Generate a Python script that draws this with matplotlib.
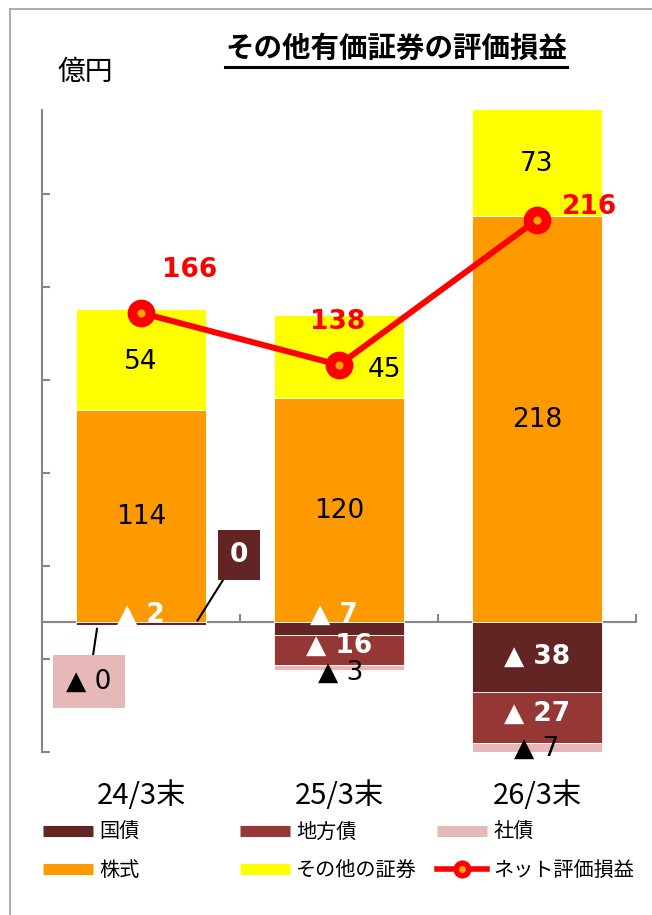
import matplotlib
matplotlib.use('Agg')
import matplotlib.pyplot as plt
from matplotlib.lines import Line2D
import numpy as np

plt.rcParams['font.family'] = ['Noto Sans CJK JP', 'DejaVu Sans']

# データ（億円）
categories = ['24/3末', '25/3末', '26/3末']
kokusai = [-2, -7, -38]        # 国債
chihousai = [0, -16, -27]      # 地方債
shasai = [-0.4, -3, -7]        # 社債
kabushiki = [114, 120, 218]    # 株式
sonota = [54, 45, 73]          # その他の証券
net = [166, 138, 216]          # ネット評価損益

c_koku = '#632523'
c_chiho = '#953735'
c_sha = '#E6B9B8'
c_kabu = '#FF9900'
c_sonota = '#FFFF00'
c_net = '#FF0000'
c_axis = '#868686'

W, H = 652, 915
fig = plt.figure(figsize=(W / 100, H / 100), dpi=100)
ax = fig.add_axes([42 / W, (H - 752) / H, 594 / W, 642 / H])

x = np.arange(len(categories))
ymin, ymax = -70, 275
kw = dict(width=0.66, edgecolor='white', linewidth=0.6, zorder=3)

ax.bar(x, kabushiki, color=c_kabu, **kw)
ax.bar(x, sonota, bottom=kabushiki, color=c_sonota, **kw)
ax.bar(x, kokusai, color=c_koku, **kw)
ax.bar(x, chihousai, bottom=kokusai, color=c_chiho, **kw)
bot_sha = np.array(kokusai) + np.array(chihousai)
ax.bar(x, shasai, bottom=bot_sha, color=c_sha, **kw)

ax.plot(x, net, color=c_net, lw=4.3, marker='o', ms=13, mew=7,
        mfc='#FFA500', mec=c_net, zorder=5)

# 軸
ax.set_xlim(-0.5, 2.5)
ax.set_ylim(ymin, ymax)
ax.spines[['top', 'right']].set_visible(False)
ax.spines['bottom'].set_position(('data', 0))
for s in ['left', 'bottom']:
    ax.spines[s].set_color(c_axis)
    ax.spines[s].set_linewidth(1.5)
ax.set_yticks(np.arange(ymin, ymax + 1, 50))
ax.tick_params(axis='y', direction='in', length=6, width=1.5, color=c_axis, labelleft=False)
ax.set_xticks([0.5, 1.5, 2.5])
ax.tick_params(axis='x', direction='in', length=6, width=1.5, color=c_axis, labelbottom=False)

for i, c in enumerate(categories):
    ax.text(i, -0.068, c, transform=ax.get_xaxis_transform(), ha='center', va='center',
            fontsize=21)


def lab(v):
    return f'▲ {abs(v):.0f}' if v < 0 else f'{v:.0f}'


num = dict(family='DejaVu Sans', fontsize=19, ha='center', va='center',
           textcoords='offset points', zorder=7)

# 株式
for i in x:
    ax.annotate(lab(kabushiki[i]), (i, kabushiki[i] / 2), xytext=(0, -1), color='black', **num)

# その他の証券
sonota_off = [(0, -2), (33, -10), (0, -1)]
for i in x:
    top = min(kabushiki[i] + sonota[i], ymax)
    ax.annotate(lab(sonota[i]), (i, (kabushiki[i] + top) / 2), xytext=sonota_off[i],
                color='black', **num)

# ネット評価損益
net_off = [(35, 31), (-1, 31), (38, 9)]
for i in x:
    ax.annotate(lab(net[i]), (i, net[i]), xytext=net_off[i], color=c_net,
                fontweight='bold', **num)

# 国債
koku_off = [(0, 6.5), (-4, 10), (0, 0)]
for i in x:
    ax.annotate(lab(kokusai[i]), (i, kokusai[i] / 2), xytext=koku_off[i], color='white',
                fontweight='bold', **num)

# 地方債
for i in x:
    yc = kokusai[i] + chihousai[i] / 2
    if i == 0:
        ax.annotate(lab(chihousai[i]), (i + 0.27, yc), xytext=(32, 51), color='white',
                    fontweight='bold',
                    bbox=dict(boxstyle='square,pad=0.45', fc=c_koku, ec='none'),
                    arrowprops=dict(arrowstyle='-', color='black', lw=1.5, shrinkA=0, shrinkB=4),
                    **num)
    else:
        ax.annotate(lab(chihousai[i]), (i, yc), xytext=(0, 2.5), color='white',
                    fontweight='bold', **num)

# 社債
sha_off = [(-6, -40), (1, -4), (0, 0)]
for i in x:
    yc = bot_sha[i] + shasai[i] / 2
    if i == 0:
        ax.annotate(lab(shasai[i]), (i - 0.22, yc), xytext=sha_off[i], color='black',
                    bbox=dict(boxstyle='square,pad=0.5', fc=c_sha, ec='none'),
                    arrowprops=dict(arrowstyle='-', color='black', lw=1.5, shrinkA=0, shrinkB=2),
                    **num)
    else:
        ax.annotate(lab(shasai[i]), (i, yc), xytext=sha_off[i], color='black', **num)

# 凡例
def ph(c):
    return Line2D([], [], color=c, lw=8, solid_capstyle='butt')


net_h = Line2D([], [], color=c_net, lw=4, marker='o', ms=9, mew=4, mfc='#FFA500', mec=c_net)
legend_cols = [
    ([ph(c_koku), ph(c_kabu)], ['国債', '株式']),
    ([ph(c_chiho), ph(c_sonota)], ['地方債', 'その他の証券']),
    ([ph(c_sha), net_h], ['社債', 'ネット評価損益']),
]
leg_x = [43, 240, 437]
for j, (hs, ls) in enumerate(legend_cols):
    fig.legend(hs, ls, loc='upper left', bbox_to_anchor=(leg_x[j] / W, 1 - 822 / H),
               frameon=False, fontsize=14.5, handlelength=2.5, handletextpad=0.3,
               labelspacing=0.85, borderpad=0, borderaxespad=0)

# タイトル・単位
t = fig.text(396 / W, 1 - 49 / H, 'その他有価証券の評価損益', ha='center', va='center',
             fontsize=20.5, fontweight='bold')
fig.text(85 / W, 1 - 72 / H, '億円', ha='center', va='center', fontsize=20)

fig.canvas.draw()
bb = t.get_window_extent(fig.canvas.get_renderer())
fig.add_artist(Line2D([bb.x0 / W, bb.x1 / W], [1 - 67 / H, 1 - 67 / H], color='black',
                      lw=2.2, transform=fig.transFigure))

# 枠線
fig.add_artist(Line2D([10 / W, 10 / W], [0, 1 - 9 / H], color='#A0A0A0', lw=1.2,
                      transform=fig.transFigure))
fig.add_artist(Line2D([10 / W, 1], [1 - 9 / H, 1 - 9 / H], color='#A0A0A0', lw=1.2,
                      transform=fig.transFigure))

fig.savefig('out.png', dpi=100)
